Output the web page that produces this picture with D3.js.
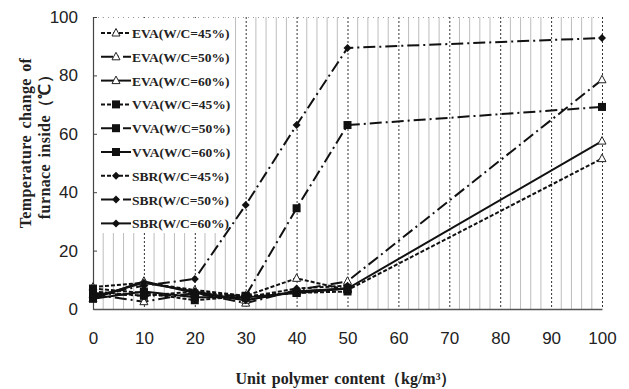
<!DOCTYPE html>
<html lang="en">
<head>
  <meta charset="UTF-8">
  <title>Temperature change of furnace inside</title>
  <script src="https://d3js.org/d3.v7.min.js"></script>
  <style>
    body { margin: 0; background: #fff; }
    svg { display: block; }
    .tick-label { font-family: "Liberation Sans", Arial, sans-serif; font-size: 17px; fill: #222; }
    .title { font-family: "Liberation Serif", "Times New Roman", serif; font-weight: bold; font-size: 16px; fill: #222; word-spacing: 2px; }
    .ytitle { letter-spacing: 0.4px; }
    .legend text { font-family: "Liberation Serif", "Times New Roman", serif; font-weight: bold; font-size: 13.5px; fill: #222; }
  </style>
</head>
<body>
  <svg width="629" height="389"></svg>

  <script>
    // x positions (kg/m3) where the measurements were made
    const contents = [0, 10, 20, 30, 40, 50, 100];
    const xTicks = [0, 10, 20, 30, 40, 50, 60, 70, 80, 90, 100];
    const yTicks = [0, 20, 40, 60, 80, 100];

    // temperature change (deg C)
    const eva45 = [7.5, 9, 6.5, 4.5, 10.5, 6.5, 51.5];
    const eva50 = [5, 2.5, 5.5, 2, 6.5, 9.5, 78.5];
    const eva60 = [3.5, 9.5, 5.5, 3, 6, 7, 57.5];
    const vva45 = [7, 5.5, 3, 4.5, 5.5, 6];
    const vva50 = [5.5, 4.5, 5, 4.5, 34.5, 63, 69.2];
    const vva60 = [3.5, 6, 4, 4, 5.5, 7];
    const sbr45 = [6, 4.5, 6, 4, 7, 8];
    const sbr50 = [4.5, 8, 10.3, 35.6, 63, 89.4, 92.8];
    const sbr60 = [4, 9, 6, 3, 6, 7];

    const seriesNames = ["EVA(W/C=45%)", "EVA(W/C=50%)", "EVA(W/C=60%)",
                         "VVA(W/C=45%)", "VVA(W/C=50%)", "VVA(W/C=60%)",
                         "SBR(W/C=45%)", "SBR(W/C=50%)", "SBR(W/C=60%)"];
    const seriesValues = [eva45, eva50, eva60, vva45, vva50, vva60, sbr45, sbr50, sbr60];

    const dashes = ["4,2", "12,4,2,4", null];
    const markers = ["triangle", "square", "diamond"];

    const series = seriesNames.map((name, i) => ({
      name: name,
      values: seriesValues[i].map((v, j) => [contents[j], v]),
      dash: dashes[i % 3],
      marker: markers[Math.floor(i / 3)]
    }));

    const svg = d3.select("svg");
    const plotLeft = 93, plotRight = 602, plotTop = 17, plotBottom = 309;

    const x = d3.scaleLinear().domain([0, 100]).range([plotLeft, plotRight]);
    const y = d3.scaleLinear().domain([0, 100]).range([plotBottom, plotTop]);

    // minor vertical grid every 2 units
    svg.append("g")
      .selectAll("line")
      .data(d3.range(2, 100, 2).filter(d => d % 10 !== 0))
      .join("line")
      .attr("x1", d => x(d)).attr("x2", d => x(d))
      .attr("y1", plotTop).attr("y2", plotBottom)
      .attr("stroke", "#bdbdbd")
      .attr("stroke-width", 1);

    // major vertical grid every 10 units
    svg.append("g")
      .selectAll("line")
      .data(xTicks.slice(1))
      .join("line")
      .attr("x1", d => x(d) + 0.5).attr("x2", d => x(d) + 0.5)
      .attr("y1", plotTop).attr("y2", plotBottom)
      .attr("stroke", "#333")
      .attr("stroke-width", 1)
      .attr("stroke-dasharray", "2,2");

    // top border (dotted)
    svg.append("line")
      .attr("x1", plotLeft).attr("x2", plotRight)
      .attr("y1", plotTop + 0.5).attr("y2", plotTop + 0.5)
      .attr("stroke", "#999")
      .attr("stroke-dasharray", "1,4");

    // legend box (white, covers grid)
    svg.append("rect")
      .attr("x", plotLeft + 1).attr("y", plotTop + 1)
      .attr("width", 138).attr("height", 215)
      .attr("fill", "#fff");

    // axes
    const yAxis = svg.append("g")
      .attr("transform", `translate(${plotLeft},0)`)
      .call(d3.axisLeft(y).tickValues(yTicks).tickSize(-4).tickPadding(15));
    yAxis.attr("font-size", null).attr("font-family", null);
    yAxis.select(".domain").attr("stroke", "#444").attr("stroke-width", 1.2);
    yAxis.selectAll(".tick line").attr("stroke", "#444");
    yAxis.selectAll("text").attr("class", "tick-label").attr("fill", null);

    const xAxis = svg.append("g")
      .attr("transform", `translate(0,${plotBottom})`)
      .call(d3.axisBottom(x).tickValues(xTicks).tickSize(0).tickPadding(23));
    xAxis.attr("font-size", null).attr("font-family", null);
    xAxis.select(".domain").attr("stroke", "#555").attr("stroke-width", 1.5);
    xAxis.selectAll("text").attr("class", "tick-label").attr("fill", null);

    // lines
    const line = d3.line().x(d => x(d[0])).y(d => y(d[1]));

    function drawMarker(g, type, cx, cy) {
      if (type === "triangle") {
        g.append("path")
          .attr("d", `M${cx},${cy - 4.5}L${cx + 4},${cy + 3}L${cx - 4},${cy + 3}Z`)
          .attr("fill", "#fff").attr("stroke", "#222").attr("stroke-width", 1);
      } else if (type === "square") {
        g.append("rect")
          .attr("x", cx - 4).attr("y", cy - 4).attr("width", 8).attr("height", 8)
          .attr("fill", "#111");
      } else {
        g.append("path")
          .attr("d", `M${cx},${cy - 4}L${cx + 4},${cy}L${cx},${cy + 4}L${cx - 4},${cy}Z`)
          .attr("fill", "#111");
      }
    }

    const plot = svg.append("g");
    series.forEach(s => {
      plot.append("path")
        .datum(s.values)
        .attr("fill", "none")
        .attr("stroke", "#111")
        .attr("stroke-width", 2)
        .attr("stroke-dasharray", s.dash)
        .attr("d", line);
    });
    series.forEach(s => {
      s.values.forEach(d => drawMarker(plot, s.marker, x(d[0]), y(d[1])));
    });

    // legend entries
    const legend = svg.append("g").attr("class", "legend");
    series.forEach((s, i) => {
      const ly = 33 + i * 23.8;
      const g = legend.append("g");
      g.append("line")
        .attr("x1", 101).attr("x2", 131)
        .attr("y1", ly).attr("y2", ly)
        .attr("stroke", "#111")
        .attr("stroke-width", 2)
        .attr("stroke-dasharray", s.dash);
      drawMarker(g, s.marker, 116, ly);
      g.append("text")
        .attr("x", 132).attr("y", ly + 5)
        .text(s.name);
    });

    // axis titles
    svg.append("text")
      .attr("class", "title")
      .attr("x", 346).attr("y", 384)
      .attr("text-anchor", "middle")
      .text("Unit polymer content（kg/m³）");

    const yTitle = svg.append("text")
      .attr("class", "title ytitle")
      .attr("transform", "translate(31,143) rotate(-90)")
      .attr("text-anchor", "middle");
    yTitle.append("tspan").attr("x", 0).attr("dy", 0).text("Temperature  change  of");
    yTitle.append("tspan").attr("x", 0).attr("dy", 19).text("furnace inside（℃）");
  </script>
</body>
</html>
